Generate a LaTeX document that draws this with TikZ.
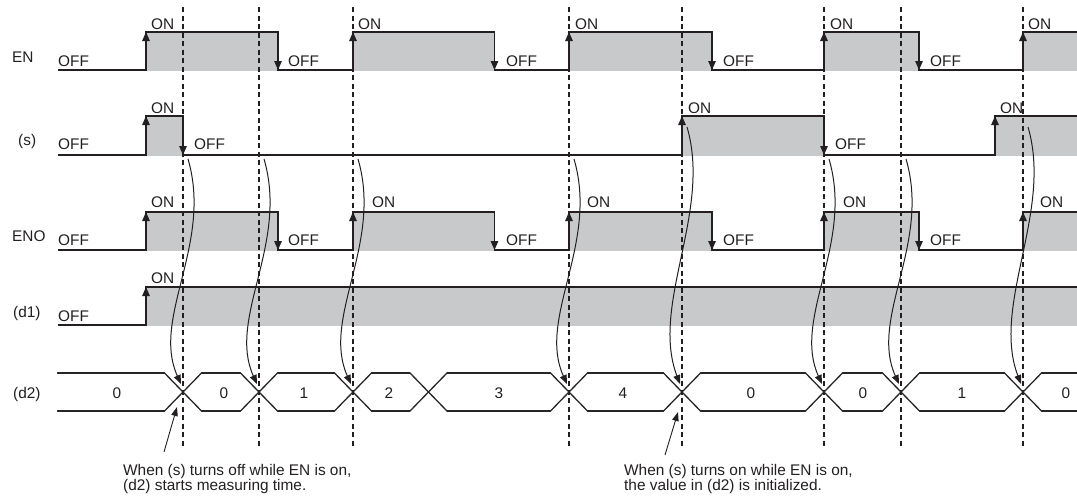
\documentclass[tikz,border=0pt]{standalone}
\usepackage{fontspec}
\setmainfont{Liberation Sans}
\usetikzlibrary{arrows.meta}
\definecolor{band}{RGB}{200,201,203}
\definecolor{ink}{RGB}{35,31,32}
\begin{document}
\begin{tikzpicture}[x=1pt,y=-1pt,
  lbl/.style={font=\fontsize{15.4}{18}\selectfont, text=ink, inner sep=0pt, anchor=base west},
  dig/.style={font=\fontsize{15.4}{18}\selectfont, text=ink, inner sep=0pt, anchor=base},
  sig/.style={draw=ink, line width=1.3pt, line join=miter},
  riseedge/.style={draw=ink, line width=1.3pt, -{Triangle[length=9pt,width=7.5pt]}},
  falledge/.style={draw=ink, line width=1.3pt, -{Triangle[length=9pt,width=7.5pt]}},
  dashln/.style={draw=ink, line width=1.2pt, dash pattern=on 5pt off 3.5pt},
  curv/.style={draw=ink, line width=1pt, -{Triangle[length=9pt,width=7pt]}},
  busln/.style={draw=black!85, line width=1.3pt, line cap=round},
  pointer/.style={draw=ink, line width=0.9pt, -{Triangle[length=9pt,width=6.5pt]}}
]
\useasboundingbox (0,0) rectangle (1077,499);

% ---------- grey bands ----------
\foreach \a/\b in {146/278,353/494.5,569/712,824/919,1023/1077}
  \fill[band] (\a,32) rectangle (\b,71);
\foreach \a/\b in {146/183,682/824,995/1077}
  \fill[band] (\a,116) rectangle (\b,156);
\foreach \a/\b in {146/278,353/494.5,569/712,824/919,1023/1077}
  \fill[band] (\a,212) rectangle (\b,251);
\fill[band] (146,287) rectangle (1077,326);

% ---------- dashed reference lines ----------
\foreach \x in {183,259,353,569,682,824,901,1023}
  \draw[dashln] (\x,7) -- (\x,446);

% ---------- EN ----------
\draw[sig] (58,70) -- (146,70) -- (146,32) -- (278,32) -- (278,70) -- (353,70) -- (353,32)
  -- (494.5,32) -- (494.5,70) -- (569,70) -- (569,32) -- (712,32) -- (712,70) -- (824,70)
  -- (824,32) -- (919,32) -- (919,70) -- (1023,70) -- (1023,32) -- (1077,32);
\foreach \x in {146,353,569,824,1023} \draw[riseedge] (\x,55) -- (\x,32);
\foreach \x in {278,494.5,712,919} \draw[falledge] (\x,47) -- (\x,70);

% ---------- (s) ----------
\draw[sig] (58,155) -- (146,155) -- (146,116) -- (183,116) -- (183,155) -- (682,155)
  -- (682,116) -- (824,116) -- (824,155) -- (995,155) -- (995,116) -- (1077,116);
\foreach \x in {146,682,995} \draw[riseedge] (\x,140) -- (\x,116);
\foreach \x in {183,824} \draw[falledge] (\x,132) -- (\x,155);

% ---------- ENO ----------
\draw[sig] (58,250) -- (146,250) -- (146,212) -- (278,212) -- (278,250) -- (353,250) -- (353,212)
  -- (494.5,212) -- (494.5,250) -- (569,250) -- (569,212) -- (712,212) -- (712,250) -- (824,250)
  -- (824,212) -- (919,212) -- (919,250) -- (1023,250) -- (1023,212) -- (1077,212);
\foreach \x in {146,353,569,824,1023} \draw[riseedge] (\x,235) -- (\x,212);
\foreach \x in {278,494.5,712,919} \draw[falledge] (\x,227) -- (\x,250);

% ---------- (d1) ----------
\draw[sig] (58,325) -- (146,325) -- (146,287) -- (1077,287);
\draw[riseedge] (146,310) -- (146,287);

% ---------- (d2) bus ----------
\def\hw{18.5}
\foreach \c in {183,259,353,428.5,569,682,824,901,1023} {
  \draw[busln] ({\c-\hw},373) -- ({\c+\hw},411);
  \draw[busln] ({\c-\hw},411) -- ({\c+\hw},373);
}
\foreach \a/\b in {183/259,259/353,353/428.5,428.5/569,569/682,682/824,824/901,901/1023} {
  \draw[busln] ({\a+\hw},373) -- ({\b-\hw},373);
  \draw[busln] ({\a+\hw},411) -- ({\b-\hw},411);
}
\draw[busln] (57.5,373) -- ({183-\hw},373);
\draw[busln] (57.5,411) -- ({183-\hw},411);
\draw[busln] ({1023+\hw},373) -- (1077,373);
\draw[busln] ({1023+\hw},411) -- (1077,411);

\foreach \x/\v [count=\i] in {117/0,224/0,304/1,389/2,499/3,623/4,751/0,863/0,962/1,1066/0}
  \node[dig] (val\i) at (\x,398) {\v};

% ---------- curved arrows ----------
\foreach \d/\ys/\cy [count=\i] in {183/159/318,259/159/318,353/159/318,569/159/318,682/127/305,824/159/318,901/159/318,1023/127/305} {
  \coordinate (cs\i) at ({\d+5},\ys);
  \coordinate (ct\i) at ({\d-2},384);
  \draw[curv] (cs\i) .. controls ({\d+30},{\ys+85}) and ({\d-32},\cy) .. (ct\i);
}

% ---------- row labels ----------
\node[lbl] (lEN)  at (12,62)  {EN};
\node[lbl] (lS)   at (18,145) {(s)};
\node[lbl] (lENO) at (12,241) {ENO};
\node[lbl] (lD1)  at (13,317) {(d1)};
\node[lbl] (lD2)  at (13,398.5) {(d2)};

% EN state labels
\node[lbl] (en0) at (58,66) {OFF};
\foreach \x [count=\i] in {151,358,575,830,1028} \node[lbl] (enon\i) at (\x,29) {ON};
\foreach \x [count=\i] in {288,506,723,930} \node[lbl] (enoff\i) at (\x,66) {OFF};

% (s) state labels
\node[lbl] (s0) at (58,149) {OFF};
\foreach \x [count=\i] in {151,688,1000} \node[lbl] (son\i) at (\x,113) {ON};
\foreach \x [count=\i] in {194,835} \node[lbl] (soff\i) at (\x,149) {OFF};

% ENO state labels
\node[lbl] (eno0) at (58,245) {OFF};
\foreach \x [count=\i] in {151,372,587,843,1040} \node[lbl] (enoon\i) at (\x,207) {ON};
\foreach \x [count=\i] in {288,506,723,930} \node[lbl] (enooff\i) at (\x,245) {OFF};

% (d1) state labels
\node[lbl] (d10) at (58,321) {OFF};
\node[lbl] (d1on) at (151,283) {ON};

% ---------- notes ----------
\node[lbl] (n1a) at (123,475) {When (s) turns off while EN is on,};
\node[lbl] (n1b) at (123,490) {(d2) starts measuring time.};
\node[lbl] (n2a) at (624,475) {When (s) turns on while EN is on,};
\node[lbl] (n2b) at (624,490) {the value in (d2) is initialized.};

\coordinate (p1s) at (164,452);
\coordinate (p1t) at (177,407);
\coordinate (p2s) at (665,455);
\coordinate (p2t) at (678,412);
\draw[pointer] (p1s) -- (p1t);
\draw[pointer] (p2s) -- (p2t);
\end{tikzpicture}
\end{document}
